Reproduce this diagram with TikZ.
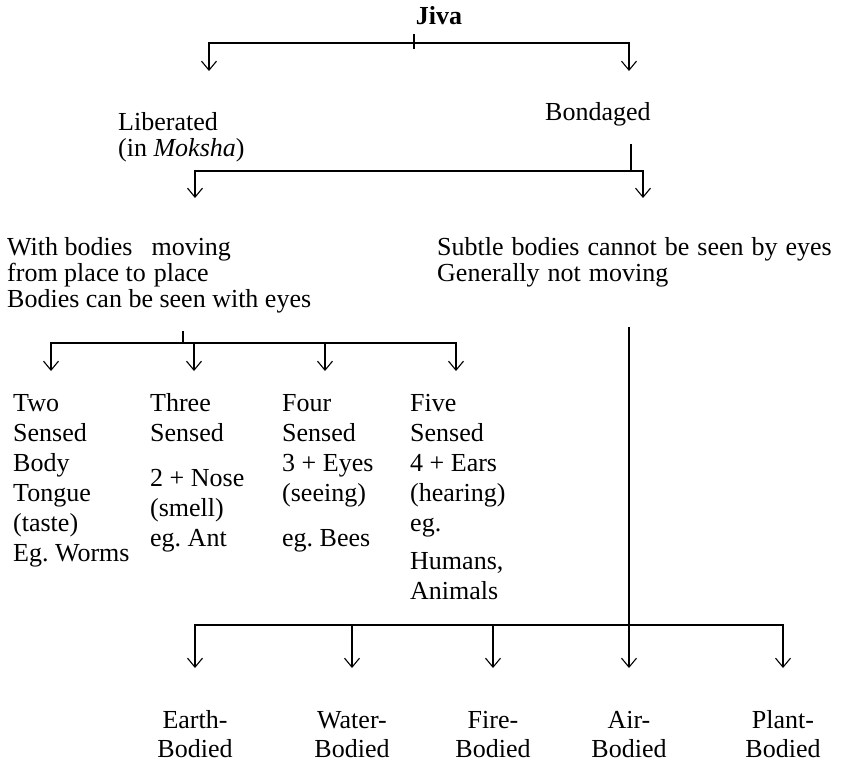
\documentclass[tikz,border=0pt]{standalone}
\usepackage{fontspec}
\setmainfont{Liberation Serif}
\usetikzlibrary{arrows.meta}
\frenchspacing
\newcommand{\widespace}{\spaceskip 8pt\relax}

\begin{document}
\begin{tikzpicture}[
            x=1pt, y=-1pt,
            txt/.style={inner sep=0pt, align=left, anchor=base west, font=\fontsize{26}{26}\selectfont},
            col/.style={txt, font=\fontsize{26}{30}\selectfont},
            leaf/.style={txt, align=center, anchor=base, font=\fontsize{26}{29}\selectfont},
            bus/.style={line width=1.1pt, line cap=rect},
            arrow/.style={-{Straight Barb[length=9pt,width=15pt]}, line width=1.1pt}
        ]
            \useasboundingbox (0,0) rectangle (848,761);

            % --- JIVA (Topo) ---
            \node[txt, anchor=base, font=\fontsize{26}{26}\selectfont\bfseries] (jiva) at (439,24) {Jiva};
            \coordinate (jivaUp) at (414,35);
            \coordinate (jivaDown) at (414,48);
            \coordinate (jivaL) at (209,43);
            \coordinate (jivaR) at (629,43);
            \coordinate (libTip) at (209,71);
            \coordinate (bonTip) at (629,71);
            \draw[bus] (jivaUp) -- (jivaDown);
            \draw[bus] (jivaL) -- (jivaR);
            \draw[arrow] (jivaL) -- (libTip);
            \draw[arrow] (jivaR) -- (bonTip);

            % --- LIBERATED / BONDAGED ---
            % (base anchor = last line)
            \node[txt] (liberated) at (118,156) {Liberated\\(in \textit{Moksha})};
            \node[txt] (bondaged) at (545,120) {Bondaged};
            \coordinate (bonFoot) at (631,145);
            \coordinate (bonBus) at (631,171);
            \coordinate (movL) at (195,171);
            \coordinate (subR) at (643,171);
            \coordinate (movTip) at (195,198);
            \coordinate (subTip) at (643,198);
            \draw[bus] (bonFoot) -- (bonBus);
            \draw[bus] (movL) -- (subR);
            \draw[arrow] (movL) -- (movTip);
            \draw[arrow] (subR) -- (subTip);

            % --- MOVING (Esquerda) / SUBTLE (Direita) ---
            \node[txt] (moving) at (7,307) {With bodies\hspace{19pt}moving\\from place to\hspace{8pt}place\\Bodies can be seen with eyes};
            \node[txt, font={\fontsize{26}{26}\selectfont\widespace}] (subtle) at (437,281) {Subtle bodies cannot be seen by eyes\\Generally not moving};
            \coordinate (movFoot) at (183,332);
            \coordinate (movBus) at (183,343);
            \draw[bus] (movFoot) -- (movBus);
            \foreach \x [count=\i] in {51,194,325,456} {
                \coordinate (s\i) at (\x,343);
                \coordinate (sTip\i) at (\x,371);
                \draw[arrow] (s\i) -- (sTip\i);
            }
            \draw[bus] (s1) -- (s4);

            % --- SENSES ---
            \node[col] (two) at (13,561) {Two\\Sensed\\Body\\Tongue\\(taste)\\Eg. Worms};
            \node[col] (three) at (150,546) {Three\\Sensed\\[15pt]2 + Nose\\(smell)\\eg. Ant};
            \node[col] (four) at (282,546) {Four\\Sensed\\3 + Eyes\\(seeing)\\[15pt]eg. Bees};
            \node[col] (five) at (410,599) {Five\\Sensed\\4 + Ears\\(hearing)\\eg.\\[8pt]Humans,\\Animals};

            % --- BODIES (Baixo) ---
            \coordinate (subFoot) at (629,328);
            \foreach \x/\nm/\lbl in {195/earth/Earth-, 352/water/Water-, 493/fire/Fire-, 629/air/Air-, 783/plant/Plant-} {
                \coordinate (\nm Bus) at (\x,625);
                \coordinate (\nm Tip) at (\x,668);
                \draw[arrow] (\nm Bus) -- (\nm Tip);
                \node[leaf] (\nm) at (\x,757) {\lbl\\Bodied};
            }
            \draw[bus] (subFoot) -- (airBus);
            \draw[bus] (earthBus) -- (plantBus);

        \end{tikzpicture}
\end{document}
